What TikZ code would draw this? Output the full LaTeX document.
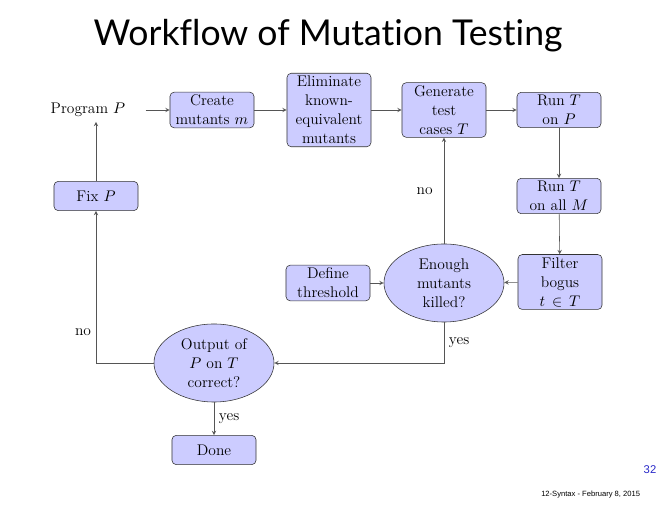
\documentclass[tikz,border=0pt]{standalone}
\usepackage{fontspec}
\newfontfamily\titlefont[Ligatures=NoCommon]{Lato}
\newfontfamily\footfont{Liberation Sans}
\usetikzlibrary{shapes.geometric, positioning, calc}
\definecolor{boxFill}{RGB}{204,204,255}
\definecolor{lineGrey}{RGB}{85,85,85}
\definecolor{slideBlue}{RGB}{40,40,200}

\begin{document}
\begin{tikzpicture} [
        x=0.025cm, y=-0.025cm,
        every node/.style={font=\fontsize{11}{13.5}\selectfont},
        task/.style={draw=black!80, fill=boxFill, rounded corners=3pt, minimum width=2.1cm, minimum height=0.73cm, align=center, inner sep=2pt},
        decision/.style={draw=black!80, fill=boxFill, ellipse, minimum width=3cm, minimum height=1.95cm, inner sep=0pt, align=center},
        flow/.style={draw=lineGrey, -stealth},
        slide title/.style={font=\titlefont\fontsize{25.3}{26}\selectfont, anchor=base},
        slide foot/.style={font=\footfont\fontsize{5.4}{6}\selectfont, anchor=base east},
    ]
    \useasboundingbox (0,0) rectangle (660,510);

    \path (328,46) node[slide title] (title) {Workflow of Mutation Testing};

    \path (88,110) node (program) {Program $P$};
    \path (212,110) node[task] (create) {Create\\mutants $m$};
    \path (329,110) node[task] (eliminate) {Eliminate\\known-\\equivalent\\mutants};
    \path (444,110) node[task] (generate) {Generate\\test\\cases $T$};
    \path (559,110) node[task] (run P) {Run $T$\\on $P$};
    \path (run P) ++(0,86) node[task] (run M) {Run $T$\\on all $M$};
    \path (560,282) node[task] (filter) {Filter\\bogus\\$t\,\in\,T$};
    \path (444,283) node[decision] (enough) {Enough\\mutants\\killed?};
    \path (328,283) node[task] (threshold) {Define\\threshold};
    \path (214,363) node[decision] (output) {Output of\\$P$ on $T$\\correct?};
    \path (output) ++(0,87) node[task] (done) {Done};
    \path (96,196) node[task] (fix) {Fix $P$};

    \draw[flow, shorten <=11pt] (program) -- (create);
    \draw[flow] (create) -- (eliminate);
    \draw[flow] (eliminate) -- (generate);
    \draw[flow] (generate) -- (run P);
    \draw[flow] (run P) -- (run M);
    \draw[flow] (run M) -- (filter);
    \draw[flow] (filter) -- (enough);
    \draw[flow] (threshold) -- (enough);
    \draw[flow] (enough) -- node[left=4.5pt] {no} (generate);
    \draw[flow] (enough.south) |- node[pos=.25, right] {yes} (output.east);
    \draw[flow] (output) -- node[right] {yes} (done);
    \draw[flow] (output.west) -| node[pos=.6, left] {no} (fix.south);
    \draw[flow] (fix) -- (fix |- program.south);

    % slide footer
    \path (650,474) node[font=\footfont\fontsize{8}{8}\selectfont, text=slideBlue, anchor=base] (page) {32};
    \path (645,497) node[slide foot] (footer) {12-Syntax - February 8, 2015};

\end{tikzpicture}
\end{document}
